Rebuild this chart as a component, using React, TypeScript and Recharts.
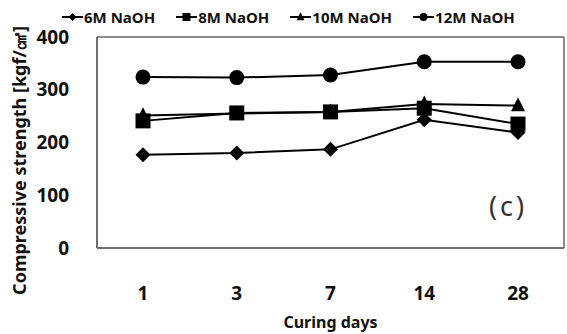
import { LineChart, Line, XAxis, YAxis, Legend, CartesianGrid } from "recharts";

const days = ["1", "3", "7", "14", "28"];
const naoh6 = [177, 180, 187, 243, 219];
const naoh8 = [241, 256, 258, 265, 235];
const naoh10 = [251, 255, 258, 273, 270];
const naoh12 = [324, 323, 328, 353, 353];
const yTicks = [0, 100, 200, 300, 400];

const data = days.map((d, i) => ({
  day: d,
  m6: naoh6[i],
  m8: naoh8[i],
  m10: naoh10[i],
  m12: naoh12[i],
}));

const FONT = "'Noto Sans', 'Open Sans', sans-serif";

type Shape = "diamond" | "square" | "triangle" | "circle";

function Marker({ cx, cy, shape, s }: { cx: number; cy: number; shape: Shape; s: number }) {
  if (cx == null || cy == null) return null;
  if (shape === "diamond")
    return <polygon points={`${cx},${cy - s} ${cx + s},${cy} ${cx},${cy + s} ${cx - s},${cy}`} fill="#000" />;
  if (shape === "square")
    return <rect x={cx - s} y={cy - s} width={s * 2} height={s * 2} fill="#000" />;
  if (shape === "triangle")
    return <polygon points={`${cx},${cy - s * 1.2} ${cx + s},${cy + s * 0.8} ${cx - s},${cy + s * 0.8}`} fill="#000" />;
  return <circle cx={cx} cy={cy} r={s} fill="#000" />;
}

const SERIES: { key: string; label: string; shape: Shape; size: number }[] = [
  { key: "m6", label: "6M NaOH", shape: "diamond", size: 7.5 },
  { key: "m8", label: "8M NaOH", shape: "square", size: 7.5 },
  { key: "m10", label: "10M NaOH", shape: "triangle", size: 7 },
  { key: "m12", label: "12M NaOH", shape: "circle", size: 7.5 },
];

function LegendContent() {
  return (
    <div style={{ display: "flex", fontFamily: FONT, fontWeight: 700, fontSize: 15, color: "#111", paddingLeft: 62 }}>
      {SERIES.map((s) => (
        <div key={s.key} style={{ display: "flex", alignItems: "center", marginRight: 21 }}>
          <svg width={21} height={14}>
            <line x1={0} y1={7} x2={21} y2={7} stroke="#000" strokeWidth={2} />
            <Marker cx={10.5} cy={7} shape={s.shape} s={4} />
          </svg>
          <span style={{ marginLeft: 1 }}>{s.label}</span>
        </div>
      ))}
    </div>
  );
}

function YLabel({ viewBox }: any) {
  const x = viewBox.x + 19;
  const y = viewBox.y + viewBox.height / 2 + 18;
  return (
    <text
      x={x}
      y={y}
      transform={`rotate(-90, ${x}, ${y})`}
      textAnchor="middle"
      dominantBaseline="central"
      fontSize={18}
      fontWeight={700}
      fill="#111"
      fontFamily={FONT}
    >
      Compressive strength [kgf/㎠]
    </text>
  );
}

export default function App() {
  return (
    <div style={{ position: "absolute", left: 0, top: 0, width: 567, height: 334, background: "#fff" }}>
      <LineChart width={567} height={334} data={data} margin={{ top: 17, right: 3, bottom: 0, left: 0 }}>
        <Legend verticalAlign="top" align="left" content={<LegendContent />} wrapperStyle={{ top: 7, left: 0 }} />
        <CartesianGrid
          stroke="#666"
          strokeWidth={1.5}
          horizontalCoordinatesGenerator={({ offset }: any) => [offset.top, offset.top + offset.height]}
          verticalCoordinatesGenerator={({ offset }: any) => [offset.left, offset.left + offset.width]}
        />
        <XAxis
          dataKey="day"
          height={86}
          padding={{ left: 46, right: 46 }}
          axisLine={{ stroke: "#666", strokeWidth: 1.5 }}
          tickLine={false}
          tickMargin={33}
          tick={{ fontSize: 19, fontWeight: 700, fill: "#111", fontFamily: FONT }}
          label={{ value: "Curing days", position: "insideBottom", offset: 6, fontSize: 16, fontWeight: 700, fill: "#111", fontFamily: FONT }}
        />
        <YAxis
          domain={[0, 400]}
          ticks={yTicks}
          width={97}
          axisLine={{ stroke: "#666", strokeWidth: 1.5 }}
          tickLine={false}
          tickMargin={22}
          tick={{ fontSize: 19, fontWeight: 700, fill: "#111", fontFamily: FONT }}
          label={<YLabel />}
        />
        {SERIES.map((s) => (
          <Line
            key={s.key}
            dataKey={s.key}
            stroke="#000"
            strokeWidth={2}
            isAnimationActive={false}
            legendType="none"
            dot={(p: any) => <Marker key={`${s.key}-${p.index}`} cx={p.cx} cy={p.cy} shape={s.shape} s={s.size} />}
            activeDot={false}
          />
        ))}
        <text x={508} y={216} textAnchor="middle" fontSize={27} fill="#333" fontFamily={FONT} letterSpacing={3}>
          (c)
        </text>
      </LineChart>
    </div>
  );
}
